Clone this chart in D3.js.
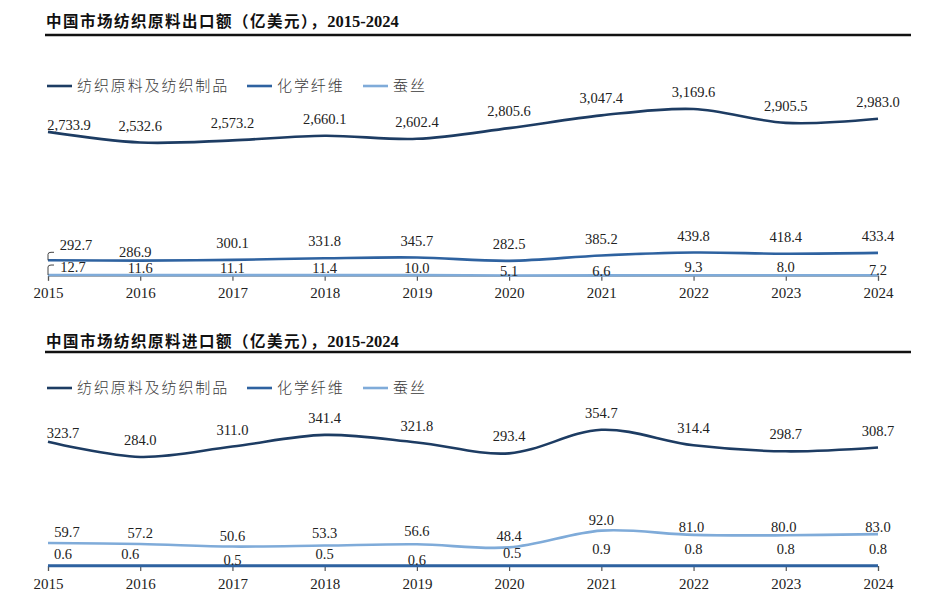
<!DOCTYPE html>
<html>
<head>
<meta charset="utf-8">
<script src="https://cdn.jsdelivr.net/npm/d3@7"></script>
<style>
  html, body { margin: 0; padding: 0; background: #ffffff; }
  svg { display: block; }
</style>
</head>
<body>
<svg id="chart" width="930" height="602"></svg>
<script>
// ---------- data ----------
const years = ['2015','2016','2017','2018','2019','2020','2021','2022','2023','2024'];
const seriesNames = ['纺织原料及纺织制品', '化学纤维', '蚕丝'];

const exportTitle = '中国市场纺织原料出口额（亿美元），';
const importTitle = '中国市场纺织原料进口额（亿美元），';
const titleYears = '2015-2024';

const exportTextile = [2733.9, 2532.6, 2573.2, 2660.1, 2602.4, 2805.6, 3047.4, 3169.6, 2905.5, 2983.0];
const exportChem    = [292.7, 286.9, 300.1, 331.8, 345.7, 282.5, 385.2, 439.8, 418.4, 433.4];
const exportSilk    = [12.7, 11.6, 11.1, 11.4, 10.0, 5.1, 6.6, 9.3, 8.0, 7.2];

const importTextile = [323.7, 284.0, 311.0, 341.4, 321.8, 293.4, 354.7, 314.4, 298.7, 308.7];
const importChem    = [59.7, 57.2, 50.6, 53.3, 56.6, 48.4, 92.0, 81.0, 80.0, 83.0];
const importSilk    = [0.6, 0.6, 0.5, 0.5, 0.6, 0.5, 0.9, 0.8, 0.8, 0.8];

// ---------- styles ----------
const NAVY = '#1d3c63', MID = '#2e62a0', LIGHT = '#7fabd9';
const legendColors = [NAVY, MID, LIGHT];
const serif = '"Liberation Serif", "Times New Roman", serif';
const cjk = '"Noto Sans CJK SC", "Noto Sans", sans-serif';

const svg = d3.select('#chart');
const x = d3.scalePoint().domain(years).range([48, 878]);

const fmtThousands = d3.format(',.1f');

function panel(cfg) {
  const g = svg.append('g');
  const y = d3.scaleLinear().domain(cfg.domain).range(cfg.range);

  // title
  const t = g.append('text').attr('x', 46).attr('y', cfg.titleY)
    .attr('font-size', 15.5).attr('font-weight', 700).attr('fill', '#111');
  t.append('tspan').attr('font-family', cjk).attr('letter-spacing', 1.5).text(cfg.title);
  t.append('tspan').attr('font-family', serif).attr('font-size', 16.5).text(titleYears);
  g.append('line').attr('x1', 45).attr('x2', 911)
    .attr('y1', cfg.ruleY).attr('y2', cfg.ruleY)
    .attr('stroke', '#111').attr('stroke-width', 2.6);

  // legend
  const legX = [[47, 72, 77], [247, 272, 277], [363, 388, 393]];
  seriesNames.forEach((name, i) => {
    g.append('line').attr('x1', legX[i][0]).attr('x2', legX[i][1])
      .attr('y1', cfg.legendY).attr('y2', cfg.legendY)
      .attr('stroke', legendColors[i]).attr('stroke-width', 2.6);
    g.append('text').attr('x', legX[i][2]).attr('y', cfg.legendY)
      .attr('dy', '0.36em').attr('font-family', cjk).attr('font-size', 15)
      .attr('font-weight', 300)
      .attr('letter-spacing', 1.9).attr('fill', '#3a3a3a').text(name);
  });

  // axis
  const y0 = y(0);
  const axis = d3.axisBottom(x).tickSize(5).tickPadding(7);
  const ax = g.append('g').attr('transform', `translate(0,${y0})`).call(axis);
  ax.select('.domain').attr('stroke', '#8c8c8c').attr('stroke-width', 1.2);
  ax.selectAll('.tick line').attr('stroke', '#555').attr('stroke-width', 1.2);
  ax.selectAll('.tick text').attr('font-family', serif).attr('font-size', 15)
    .attr('fill', '#222');

  const line = d3.line()
    .x((d, i) => x(years[i]))
    .y(d => y(d))
    .curve(d3.curveCatmullRom.alpha(0.5));

  cfg.series.forEach(s => {
    g.append('path').datum(s.values).attr('d', line)
      .attr('fill', 'none').attr('stroke', s.color).attr('stroke-width', s.width || 2.6)
      .attr('stroke-linecap', 'butt');
  });

  // labels
  cfg.series.forEach(s => {
    s.values.forEach((v, i) => {
      const n = (s.nudge && s.nudge[i]) || [0, 0];
      const lx = x(years[i]) + n[0];
      const ly = y(v) - s.lift + n[1];
      g.append('text').attr('x', lx).attr('y', ly).attr('dy', '0.35em')
        .attr('text-anchor', 'middle').attr('font-family', serif)
        .attr('font-size', 14.5).attr('fill', '#222')
        .text(fmtThousands(v));
    });
    if (s.leader) {
      const px = x(years[0]), py = y(s.values[0]);
      g.append('path')
        .attr('d', `M${px},${py} L${px},${py - s.leader + 2} Q${px},${py - s.leader} ${px + 3},${py - s.leader} L${px + 6},${py - s.leader}`)
        .attr('fill', 'none').attr('stroke', '#444').attr('stroke-width', 1);
    }
  });
}

panel({
  title: exportTitle, titleY: 27, ruleY: 35, legendY: 86,
  domain: [0, 3500], range: [275.7, 91.6],
  series: [
    { values: exportTextile, color: NAVY, lift: 17, nudge: { 0: [21, 10] } },
    { values: exportChem, color: MID, lift: 17, leader: 8, nudge: { 0: [28, 2], 1: [-5, 8] } },
    { values: exportSilk, color: LIGHT, lift: 7, leader: 10, nudge: { 0: [25, -1], 5: [0, 2], 6: [0, 3], 7: [0, -1], 8: [0, -1], 9: [0, 1.5] } }
  ]
});

panel({
  title: importTitle, titleY: 347, ruleY: 352, legendY: 388,
  domain: [0, 400], range: [566, 412.4],
  series: [
    { values: importTextile, color: NAVY, lift: 17, nudge: { 0: [15, 8] } },
    { values: importChem, color: LIGHT, lift: 11, nudge: { 0: [19, 0], 3: [0, -2], 4: [0, -2], 7: [-2, 3], 8: [-2, 3], 9: [0, 4] } },
    { values: importSilk, color: MID, lift: 12, width: 3, nudge: { 0: [15, 0], 1: [-10, 0], 2: [0, 6], 4: [0, 6], 5: [3, -1], 6: [0, -5], 7: [0, -5], 8: [0, -5], 9: [0, -5] } }
  ]
});
</script>
</body>
</html>
